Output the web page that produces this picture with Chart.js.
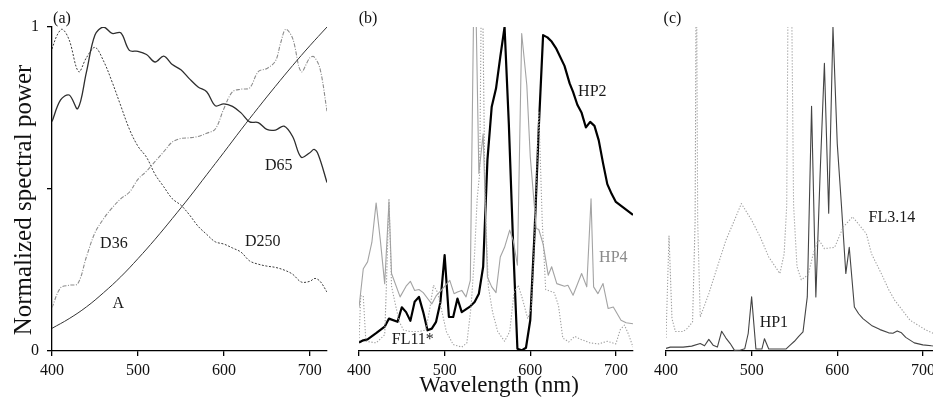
<!DOCTYPE html>
<html>
<head>
<meta charset="utf-8">
<script src="https://cdn.jsdelivr.net/npm/chart.js@4"></script>
<style>
  html, body { margin:0; padding:0; background:#fff; }
  body { width:933px; height:404px; overflow:hidden; position:relative; }
  canvas { position:absolute; top:0; }
</style>
</head>
<body>
<canvas id="ca" width="340" height="404" style="left:0px"></canvas>
<canvas id="cb" width="300" height="404" style="left:340px"></canvas>
<canvas id="cc" width="300" height="404" style="left:645px"></canvas>
<script>
// ---------- DATA ----------
const xTicks = [400, 500, 600, 700];
const yTicks = [0, 0.5, 1];

// Panel (a)
const wlD65 = [400,410,420,430,440,450,460,470,480,490,500,510,520,530,540,550,560,570,580,590,600,610,620,630,640,650,660,670,680,690,700,705,710,720];
const D65   = [0.708,0.775,0.790,0.748,0.860,0.975,1.000,0.980,0.982,0.928,0.925,0.915,0.892,0.910,0.884,0.868,0.840,0.815,0.800,0.757,0.763,0.755,0.735,0.707,0.705,0.684,0.682,0.694,0.662,0.598,0.612,0.622,0.605,0.520];

const wlA = [400,420,440,460,480,500,520,540,560,580,600,620,640,660,680,700,720];
const A   = [0.070,0.100,0.136,0.180,0.229,0.285,0.345,0.409,0.475,0.544,0.613,0.683,0.751,0.817,0.881,0.942,1.000];

const wlD36 = [400,410,420,430,440,450,460,470,480,490,500,510,520,530,540,550,560,570,580,590,600,610,620,630,640,650,660,666,672,680,690,700,705,712,720];
const D36   = [0.134,0.195,0.203,0.208,0.290,0.365,0.408,0.442,0.470,0.490,0.530,0.555,0.585,0.615,0.645,0.656,0.658,0.662,0.672,0.685,0.748,0.800,0.808,0.812,0.862,0.872,0.895,0.950,0.993,0.965,0.862,0.905,0.908,0.870,0.740];

const wlD250 = [400,406,412,420,431,440,450,460,470,480,490,500,510,520,530,540,550,560,570,580,590,600,610,620,630,640,650,660,670,680,690,700,706,712,720];
const D250   = [0.932,0.975,0.993,0.960,0.862,0.905,0.937,0.895,0.830,0.757,0.685,0.632,0.598,0.545,0.507,0.470,0.450,0.420,0.385,0.360,0.337,0.330,0.318,0.305,0.278,0.268,0.262,0.258,0.250,0.237,0.213,0.215,0.224,0.215,0.182];

// Panel (b)
const wlHP2 = [400,405,410,420,430,435,445,450,455,460,465,470,475,480,485,490,495,500,505,510,515,520,530,535,540,545,550,555,560,565,570,575,580,585,590,595,600,605,610,615,620,625,630,640,646,650,655,660,665,670,675,680,685,690,695,700,710,720];
const HP2   = [0.026,0.033,0.036,0.055,0.075,0.100,0.090,0.135,0.120,0.093,0.152,0.167,0.120,0.064,0.069,0.090,0.150,0.296,0.105,0.105,0.162,0.120,0.138,0.151,0.177,0.260,0.590,0.754,0.810,0.908,1.000,0.700,0.330,0.007,0.002,0.010,0.095,0.363,0.692,0.975,0.968,0.955,0.935,0.880,0.826,0.800,0.760,0.735,0.690,0.707,0.695,0.650,0.580,0.515,0.485,0.460,0.440,0.420];

const wlHP4 = [400,405,410,415,420,425,430,435,438,448,455,460,465,470,475,485,490,497,506,511,515,520,525,530,535,540,545,550,555,560,565,570,576,580,585,590,596,600,607,610,615,621,625,631,640,644,650,660,666,671,674,679,685,691,697,706,712,720];
const HP4   = [0.134,0.254,0.275,0.335,0.457,0.340,0.208,0.460,0.239,0.167,0.200,0.215,0.187,0.190,0.180,0.145,0.170,0.190,0.218,0.177,0.182,0.187,0.167,0.218,1.300,0.548,0.670,0.228,0.198,0.180,0.290,0.320,0.373,0.342,0.265,0.980,0.820,0.600,0.378,0.375,0.330,0.234,0.260,0.208,0.200,0.203,0.172,0.239,0.198,0.470,0.198,0.177,0.208,0.131,0.136,0.095,0.087,0.084];

const wlFL11 = [400,402,405,408,420,430,432,435,438,442,447,452,460,470,478,482,487,492,497,502,510,520,526,531,535,538,541,543.5,547,551,556,562,570,576,581,586,591,597,601,605,610,614,618,628,633,638,645,652,660,670,680,690,700,705,710,715,720];
const FL11   = [0.030,0.170,0.170,0.030,0.025,0.050,0.200,0.470,0.200,0.150,0.090,0.065,0.060,0.060,0.065,0.120,0.203,0.180,0.120,0.060,0.020,0.012,0.025,0.140,0.300,0.470,0.550,1.300,0.500,0.200,0.120,0.060,0.030,0.060,0.180,0.203,0.160,0.100,0.130,0.350,0.740,0.400,0.190,0.180,0.140,0.040,0.028,0.045,0.035,0.025,0.022,0.030,0.022,0.065,0.080,0.050,0.012];

// Panel (c)
const wlHP1 = [400,405,420,430,440,445,450,455,460,465,470,475,480,487,492,496,500,505,512,515,520,540,545,550,555,560,565,570,575,580,585,590,595,600,605,610,614,620,625,630,640,650,660,665,670,675,680,690,700,710,720];
const HP1   = [0.008,0.012,0.012,0.015,0.023,0.016,0.036,0.018,0.012,0.061,0.040,0.023,0.002,0.003,0.007,0.054,0.167,0.006,0.006,0.038,0.006,0.006,0.018,0.030,0.045,0.059,0.167,0.755,0.167,0.548,0.888,0.425,1.000,0.640,0.445,0.239,0.320,0.136,0.115,0.100,0.079,0.066,0.056,0.055,0.062,0.056,0.042,0.025,0.019,0.016,0.014];

const wlFL314 = [400,403.5,407,411,420,425,431,434,435.5,437,440,450,460,470,480,488,500,510,520,533,538,541,543,546,549,553,558,566,572,578,585,597,607,618,634,640,652,660,667,685,704,712,720];
const FL314   = [0.040,0.355,0.100,0.060,0.060,0.070,0.090,0.400,1.300,0.400,0.105,0.177,0.260,0.342,0.404,0.455,0.404,0.352,0.290,0.239,0.300,0.450,1.300,1.300,0.450,0.260,0.220,0.235,0.300,0.345,0.316,0.320,0.383,0.414,0.362,0.300,0.236,0.190,0.157,0.095,0.064,0.055,0.048];

// label annotations (text, wavelength, value)
const labelsA = [['D65',663.8,0.572],['D250',645.3,0.338],['D36',472,0.331],['A',477,0.146]];
const labelsB = [['HP2',672.5,0.80],['HP4',697,0.288],['FL11*',462.8,0.034]];
const labelsC = [['HP1',526,0.087],['FL3.14',663.8,0.411]];

// ---------- CHART HELPERS ----------
const SERIF = '"Liberation Serif", "DejaVu Serif", serif';
const pts = (wl, v) => wl.map((x, i) => ({x: x, y: v[i]}));

function ds(wl, v, color, width, dash, tension) {
  return { data: pts(wl, v), borderColor: color, borderWidth: width, borderDash: dash || [],
           pointRadius: 0, fill: false, tension: tension || 0, borderCapStyle: 'butt', borderJoinStyle: 'round' };
}

function labelPlugin(labels, extra) {
  return {
    id: 'lbl',
    afterDraw(chart) {
      const ctx = chart.ctx, xs = chart.scales.x, ys = chart.scales.y;
      ctx.save();
      ctx.font = '16px ' + SERIF;
      ctx.textAlign = 'center';
      ctx.textBaseline = 'middle';
      labels.forEach(l => {
        ctx.fillStyle = (l[0] === 'HP4') ? '#8a8a8a' : '#1a1a1a';
        ctx.fillText(l[0], xs.getPixelForValue(l[1]), ys.getPixelForValue(l[2]));
      });
      if (extra) extra(ctx, chart);
      ctx.restore();
    }
  };
}

function makeChart(id, datasets, opts) {
  const xScale = {
    type: 'linear', min: 400, max: 720,
    afterBuildTicks: s => { s.ticks = xTicks.map(v => ({value: v})); },
    afterFit: s => { s.height = 53; },
    ticks: { font: {family: SERIF, size: 16}, color: '#111', padding: 5, maxRotation: 0,
             callback: v => String(v) },
    grid: { display: true, drawOnChartArea: false, drawTicks: true, tickLength: 5, color: '#000', lineWidth: 1.3 },
    border: { display: true, color: '#000', width: 1.3 }
  };
  const yScale = {
    type: 'linear', min: 0, max: 1, display: opts.showY,
    afterBuildTicks: s => { s.ticks = yTicks.map(v => ({value: v})); },
    afterFit: s => { if (opts.showY) s.width = 52; },
    ticks: { font: {family: SERIF, size: 16}, color: '#111', padding: 8,
             callback: v => (v === 0.5 ? '' : String(v)) },
    grid: { display: true, drawOnChartArea: false, drawTicks: true, tickLength: 5, color: '#000', lineWidth: 1.3 },
    border: { display: true, color: '#000', width: 1.3 }
  };
  return new Chart(document.getElementById(id), {
    type: 'line',
    data: { datasets: datasets },
    options: {
      responsive: false, animation: false, devicePixelRatio: 1,
      layout: { padding: opts.padding },
      plugins: { legend: {display: false}, tooltip: {enabled: false} },
      scales: { x: xScale, y: yScale }
    },
    plugins: [labelPlugin(opts.labels, opts.extra)]
  });
}

// ---------- PANEL (a) ----------
makeChart('ca', [
  ds(wlD65, D65, '#2e2e2e', 1.3, [], 0.35),
  ds(wlA, A, '#333333', 1.0, [], 0.4),
  ds(wlD36, D36, '#8c8c8c', 1.1, [4, 1.5, 1, 1.5], 0.35),
  ds(wlD250, D250, '#3a3a3a', 1.0, [2, 1.6], 0.35)
], {
  showY: true, padding: {top: 27, left: 0, right: 13, bottom: 0}, labels: labelsA,
  extra: (ctx) => {
    ctx.fillStyle = '#111';
    ctx.font = '16px ' + SERIF;
    ctx.textAlign = 'center'; ctx.textBaseline = 'middle';
    ctx.fillText('(a)', 62, 19);
    ctx.save();
    ctx.translate(30.5, 200);
    ctx.rotate(-Math.PI / 2);
    ctx.font = '25px ' + SERIF;
    ctx.textAlign = 'center'; ctx.textBaseline = 'alphabetic';
    ctx.fillText('Normalized spectral power', 0, 0);
    ctx.restore();
  }
});

// ---------- PANEL (b) ----------
makeChart('cb', [
  ds(wlFL11, FL11, '#a0a0a0', 1.1, [1.3, 1.7], 0),
  ds(wlHP4, HP4, '#a3a3a3', 1.1, [], 0),
  ds(wlHP2, HP2, '#000000', 2.2, [], 0)
], {
  showY: false, padding: {top: 27, left: 19, right: 7, bottom: 0}, labels: labelsB,
  extra: (ctx) => {
    ctx.fillStyle = '#111';
    ctx.font = '16px ' + SERIF;
    ctx.textAlign = 'center'; ctx.textBaseline = 'middle';
    ctx.fillText('(b)', 28, 19);
    ctx.font = '23px ' + SERIF;
    ctx.textBaseline = 'alphabetic';
    ctx.fillText('Wavelength (nm)', 159, 392);
  }
});

// ---------- PANEL (c) ----------
makeChart('cc', [
  ds(wlFL314, FL314, '#a0a0a0', 1.1, [1.3, 1.7], 0),
  ds(wlHP1, HP1, '#444444', 1.1, [], 0)
], {
  showY: false, padding: {top: 27, left: 21, right: 5, bottom: 0}, labels: labelsC,
  extra: (ctx) => {
    ctx.fillStyle = '#111';
    ctx.font = '16px ' + SERIF;
    ctx.textAlign = 'center'; ctx.textBaseline = 'middle';
    ctx.fillText('(c)', 27.5, 19);
  }
});
</script>
</body>
</html>
